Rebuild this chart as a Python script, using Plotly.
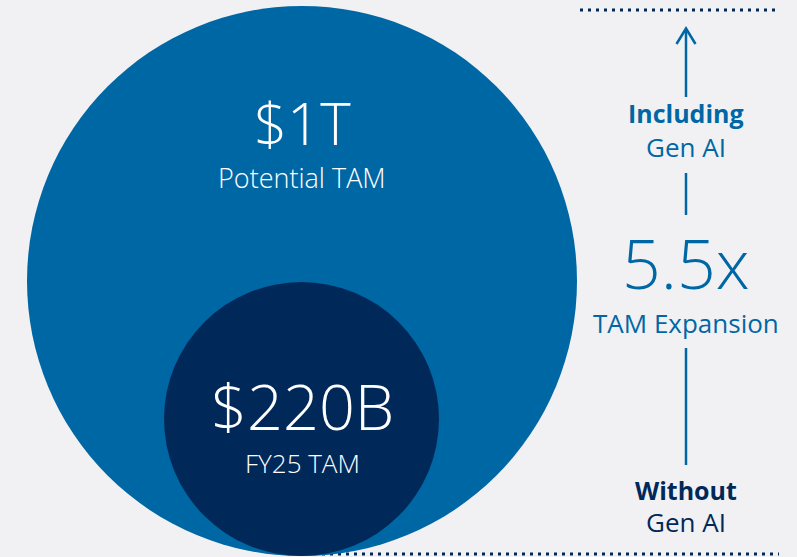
import plotly.graph_objects as go

# Market sizing figures
tam_values = ["$1T", "$220B"]
tam_captions = ["Potential TAM", "FY25 TAM"]
expansion_value = "5.5x"
expansion_caption = "TAM Expansion"
upper_label = ["Including", "Gen AI"]
lower_label = ["Without", "Gen AI"]

W, H = 797, 557
BG = "#f1f1f4"
BLUE = "#0067a5"
NAVY = "#00295a"
FONT = "Open Sans"

fig = go.Figure()

shapes = [
    # dotted reference levels
    dict(type="line", x0=580, x1=779, y0=10, y1=10,
         line=dict(color=NAVY, width=3, dash="3px,5px")),
    dict(type="line", x0=322, x1=779, y0=554, y1=554,
         line=dict(color=NAVY, width=3, dash="3px,5px")),
    # circles
    dict(type="circle", x0=27, x1=577, y0=6, y1=556,
         fillcolor=BLUE, line=dict(width=0), layer="above"),
    dict(type="circle", x0=164, x1=439, y0=282, y1=556,
         fillcolor=NAVY, line=dict(width=0), layer="above"),
    # arrow and connector segments
    dict(type="line", x0=686, x1=686, y0=29, y1=97,
         line=dict(color=BLUE, width=2.5)),
    dict(type="path", path="M 676.5 44 L 686 28.5 L 695.5 44",
         line=dict(color=BLUE, width=2.5)),
    dict(type="line", x0=686, x1=686, y0=173, y1=215,
         line=dict(color=BLUE, width=2.5)),
    dict(type="line", x0=686, x1=686, y0=348, y1=465,
         line=dict(color=BLUE, width=2.5)),
]

def txt(x, y, s, size, color, weight=300):
    return dict(x=x, y=y, xref="x", yref="y", text=s, showarrow=False,
                xanchor="center", yanchor="middle",
                font=dict(family=FONT, size=size, color=color, weight=weight))

annotations = [
    txt(302, 122, tam_values[0], 58, "white"),
    txt(302, 177, tam_captions[0], 27, "white"),
    txt(302, 405, tam_values[1], 63, "white"),
    txt(302, 463, tam_captions[1], 26, "white"),
    txt(686, 113, upper_label[0], 25, BLUE, 700),
    txt(686, 147, upper_label[1], 26, BLUE, 400),
    txt(686, 262, expansion_value, 68, BLUE),
    txt(686, 323, expansion_caption, 26, BLUE, 400),
    txt(686, 490, lower_label[0], 25, NAVY, 700),
    txt(686, 522, lower_label[1], 26, NAVY, 400),
]

fig.update_layout(
    width=W, height=H,
    margin=dict(l=0, r=0, t=0, b=0),
    paper_bgcolor=BG, plot_bgcolor=BG,
    showlegend=False,
    xaxis=dict(range=[0, W], visible=False, fixedrange=True),
    yaxis=dict(range=[H, 0], visible=False, fixedrange=True),
    shapes=shapes,
    annotations=annotations,
)

fig.write_html("out.html", config={"displayModeBar": False})
